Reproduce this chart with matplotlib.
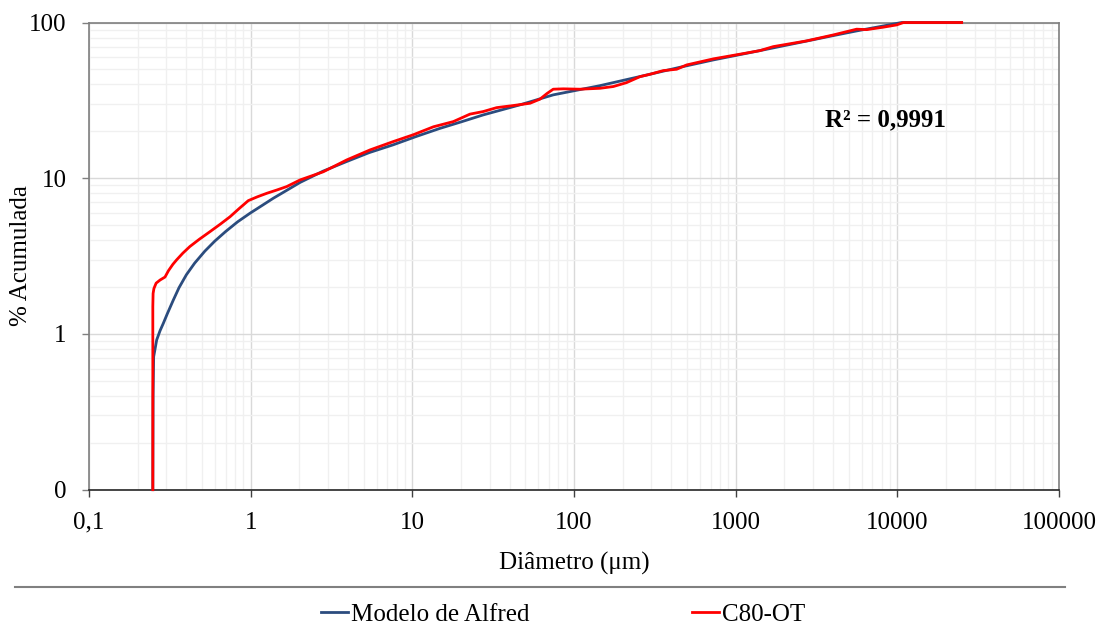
import matplotlib
matplotlib.use('Agg')
import matplotlib.pyplot as plt
from matplotlib.lines import Line2D
from matplotlib.ticker import FixedLocator, NullFormatter

plt.rcParams['font.family'] = ['Liberation Serif', 'DejaVu Serif']
plt.rcParams['font.size'] = 18

# Data (diameter in um, cumulative %)
alfred_d = [0.248, 0.249, 0.251, 0.262, 0.275, 0.288, 0.305, 0.332, 0.36, 0.40,
            0.45, 0.52, 0.60, 0.70, 0.83, 0.99, 1.18, 1.38, 1.65, 2.02, 2.8,
            3.92, 5.4, 7.62, 10.5, 14.8, 20.0, 27.4, 46.3, 74.3, 144.5, 281,
            452, 726, 1411, 2742, 4009, 5593, 8172, 10600, 24950]
alfred_pct = [0.1, 0.4, 0.714, 0.915, 1.05, 1.17, 1.35, 1.65, 1.98, 2.40,
              2.85, 3.40, 3.95, 4.55, 5.25, 5.96, 6.70, 7.44, 8.30, 9.4, 11.1,
              12.8, 14.6, 16.4, 18.5, 20.9, 23.0, 25.5, 29.6, 34.3, 39.3, 46.0,
              51.6, 57.5, 66.0, 76.0, 82.4, 88.3, 95.0, 100, 100]

c80_d = [0.248, 0.248, 0.249, 0.252, 0.26, 0.275, 0.295, 0.31, 0.33, 0.348,
         0.38, 0.42, 0.48, 0.56, 0.65, 0.745, 0.85, 0.966, 1.1, 1.26, 1.45,
         1.67, 2.02, 2.81, 3.92, 5.47, 7.62, 10.1, 13.5, 17.9, 22.7, 27.4,
         33.2, 42.1, 53.4, 61.5, 68.0, 74.3, 85.8, 108.8, 144.5, 174.8, 211,
         255.6, 294.5, 356, 431, 497, 726, 1062, 1411, 1706, 2742, 4009, 5593,
         6456, 8172, 9885, 10870, 24950]
c80_pct = [0.1, 1.5, 1.82, 1.96, 2.12, 2.22, 2.32, 2.55, 2.80, 2.99,
           3.30, 3.64, 4.05, 4.54, 5.08, 5.66, 6.40, 7.18, 7.60, 8.01, 8.40,
           8.84, 9.75, 11.0, 13.1, 15.2, 17.2, 19.0, 21.4, 23.1, 25.8, 26.8,
           28.4, 29.3, 30.3, 32.2, 35.0, 37.3, 37.5, 37.3, 37.8, 38.8, 41.1,
           44.9, 46.5, 49.1, 50.1, 53.4, 58.4, 62.6, 66.0, 70.0, 76.2, 83.2,
           90.6, 90.0, 93.3, 96.5, 99.9, 100]

x_ticks = [0.1, 1, 10, 100, 1000, 10000, 100000]
x_labels = ['0,1', '1', '10', '100', '1000', '10000', '100000']
y_ticks = [0.1, 1, 10, 100]
y_labels = ['0', '1', '10', '100']

fig = plt.figure(figsize=(11.02, 6.25), dpi=100)
ax = fig.add_axes([0.0808, 0.2165, 0.8803, 0.7475])

ax.plot(alfred_d, alfred_pct, color='#2B4C7E', lw=2.0, label='Modelo de Alfred',
        clip_on=False, zorder=3, solid_joinstyle='round')
ax.plot(c80_d, c80_pct, color='#FF0000', lw=2.0, label='C80-OT',
        clip_on=False, zorder=4, solid_joinstyle='round')

ax.set_xscale('log')
ax.set_yscale('log')
ax.set_xlim(0.1, 100000)
ax.set_ylim(0.1, 100)

ax.xaxis.set_major_locator(FixedLocator(x_ticks))
ax.set_xticklabels(x_labels)
ax.yaxis.set_major_locator(FixedLocator(y_ticks))
ax.set_yticklabels(y_labels)
ax.xaxis.set_minor_formatter(NullFormatter())
ax.yaxis.set_minor_formatter(NullFormatter())

ax.grid(which='major', color='#D9D9D9', lw=1.0)
ax.grid(which='minor', color='#F0F0F0', lw=1.0)
ax.set_axisbelow(True)

ax.tick_params(which='minor', length=0)
ax.tick_params(axis='x', which='major', length=5, width=1, color='#404040', pad=11, labelsize=18)
ax.tick_params(axis='y', which='major', length=5, width=1, color='#808080', pad=11, labelsize=18)

for side in ['top', 'left', 'right']:
    ax.spines[side].set_color('#7F7F7F')
    ax.spines[side].set_linewidth(1.2)
ax.spines['bottom'].set_color('#262626')
ax.spines['bottom'].set_linewidth(1.2)

ax.set_xlabel('Diâmetro (μm)', fontsize=18, labelpad=13)
fig.text(0.019, 0.5905, '% Acumulada', rotation=90, ha='center', va='center', fontsize=18)

ax.text(0.821, 0.792, 'R² = 0,9991', transform=ax.transAxes, ha='center', va='center',
        fontsize=18, fontweight='bold')

# separator line above legend
fig.add_artist(Line2D([0.014, 0.966], [0.0613, 0.0613], transform=fig.transFigure,
                      color='#808080', lw=1.5))

fig.legend(loc='center', bbox_to_anchor=(0.511, 0.017), ncol=2, frameon=False,
           handlelength=1.1, handletextpad=0.1, columnspacing=6.5, fontsize=18)

plt.savefig('out.png', dpi=100)
